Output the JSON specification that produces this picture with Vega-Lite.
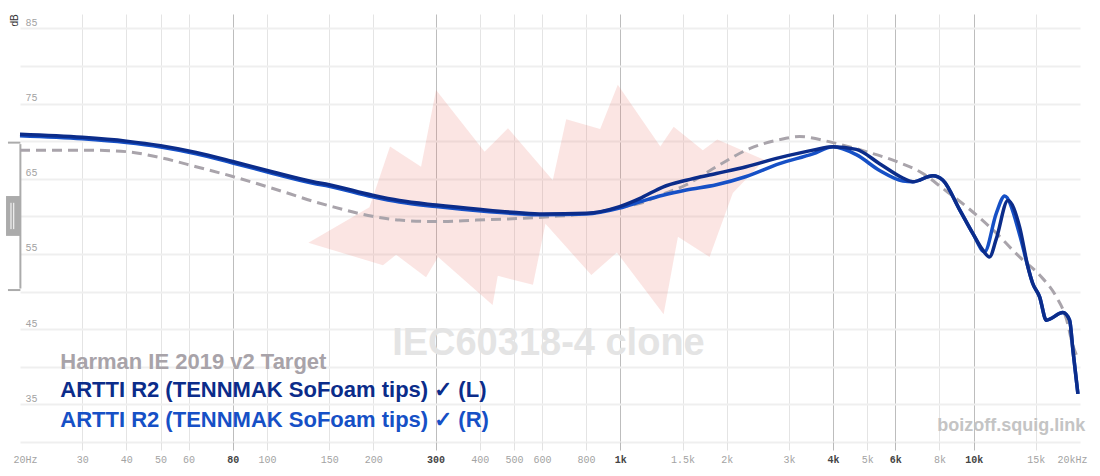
{
  "$schema": "https://vega.github.io/schema/vega-lite/v6.json",
  "width": 1060,
  "height": 428,
  "autosize": "none",
  "padding": {"left": 20, "top": 14, "right": 20, "bottom": 34},
  "background": "white",
  "config": {"view": {"stroke": null}},
  "datasets": {
    "iec": [
      {"i": 1, "f": 131, "db": 56.5}, {"i": 2, "f": 195, "db": 61.2}, {"i": 3, "f": 223, "db": 69.3},
      {"i": 4, "f": 273, "db": 66.6}, {"i": 5, "f": 301, "db": 76.8}, {"i": 6, "f": 413, "db": 68.6},
      {"i": 7, "f": 481, "db": 71.7}, {"i": 8, "f": 644, "db": 64.8}, {"i": 9, "f": 703, "db": 72.9},
      {"i": 10, "f": 877, "db": 71.6}, {"i": 11, "f": 984, "db": 77.5}, {"i": 12, "f": 1298, "db": 69.3},
      {"i": 13, "f": 1416, "db": 71.9}, {"i": 14, "f": 1712, "db": 68.8}, {"i": 15, "f": 1881, "db": 70.2},
      {"i": 16, "f": 2560, "db": 67.5}, {"i": 17, "f": 2082, "db": 63.1}, {"i": 18, "f": 1789, "db": 54.6},
      {"i": 19, "f": 1456, "db": 57.3}, {"i": 20, "f": 1326, "db": 47.0}, {"i": 21, "f": 978, "db": 55.2},
      {"i": 22, "f": 828, "db": 52.2}, {"i": 23, "f": 614, "db": 59.0}, {"i": 24, "f": 566, "db": 50.9},
      {"i": 25, "f": 450, "db": 52.1}, {"i": 26, "f": 435, "db": 48.2}, {"i": 27, "f": 305, "db": 54.6},
      {"i": 28, "f": 282, "db": 51.9}, {"i": 29, "f": 232, "db": 54.9}, {"i": 30, "f": 213, "db": 53.5},
      {"i": 31, "f": 131, "db": 56.5}
    ],
    "target": [
      {"f": 20, "db": 68.8}, {"f": 31, "db": 68.8}, {"f": 40, "db": 68.6}, {"f": 50, "db": 67.8},
      {"f": 63, "db": 66.6}, {"f": 80, "db": 65.3}, {"f": 104, "db": 63.7}, {"f": 116, "db": 63.0},
      {"f": 135, "db": 62.0}, {"f": 150, "db": 61.4}, {"f": 199, "db": 60.0}, {"f": 237, "db": 59.5},
      {"f": 301, "db": 59.3}, {"f": 391, "db": 59.5}, {"f": 508, "db": 59.7}, {"f": 630, "db": 59.95},
      {"f": 870, "db": 60.6}, {"f": 1000, "db": 61.2}, {"f": 1184, "db": 62.0}, {"f": 1264, "db": 62.6},
      {"f": 1537, "db": 64.2}, {"f": 1870, "db": 66.6}, {"f": 2322, "db": 69.0}, {"f": 2822, "db": 70.2},
      {"f": 3217, "db": 70.6}, {"f": 3996, "db": 69.8}, {"f": 4968, "db": 68.6}, {"f": 6040, "db": 67.3},
      {"f": 7184, "db": 65.7}, {"f": 8186, "db": 63.7}, {"f": 9532, "db": 61.3}, {"f": 11340, "db": 58.2},
      {"f": 13490, "db": 54.6}, {"f": 15370, "db": 52.2}, {"f": 17140, "db": 49.3}, {"f": 18290, "db": 46.4},
      {"f": 19100, "db": 42.8}, {"f": 19530, "db": 41.6}
    ],
    "left": [
      {"f": 20, "db": 70.9}, {"f": 30, "db": 70.5}, {"f": 40, "db": 70.0}, {"f": 50, "db": 69.4},
      {"f": 63, "db": 68.5}, {"f": 80, "db": 67.3}, {"f": 104, "db": 65.9}, {"f": 135, "db": 64.6},
      {"f": 150, "db": 64.2}, {"f": 199, "db": 62.8}, {"f": 237, "db": 62.1}, {"f": 301, "db": 61.5},
      {"f": 404, "db": 60.9}, {"f": 508, "db": 60.5}, {"f": 604, "db": 60.3}, {"f": 801, "db": 60.4},
      {"f": 995, "db": 61.3}, {"f": 1150, "db": 62.5}, {"f": 1319, "db": 63.9}, {"f": 1537, "db": 64.8},
      {"f": 1870, "db": 65.7}, {"f": 2272, "db": 66.6}, {"f": 2822, "db": 67.8}, {"f": 3508, "db": 68.8},
      {"f": 3996, "db": 69.25}, {"f": 4654, "db": 68.9}, {"f": 5418, "db": 67.0}, {"f": 6306, "db": 65.1},
      {"f": 6730, "db": 64.6}, {"f": 7668, "db": 65.4}, {"f": 8186, "db": 64.8}, {"f": 9124, "db": 60.9},
      {"f": 9954, "db": 57.7}, {"f": 10620, "db": 55.5}, {"f": 11090, "db": 54.6}, {"f": 11590, "db": 57.0},
      {"f": 12500, "db": 62.1}, {"f": 13490, "db": 58.6}, {"f": 14240, "db": 53.3}, {"f": 14690, "db": 51.1},
      {"f": 15370, "db": 49.3}, {"f": 16060, "db": 46.2}, {"f": 17890, "db": 47.2}, {"f": 18690, "db": 46.2},
      {"f": 19100, "db": 42.2}, {"f": 19730, "db": 36.4}
    ],
    "right": [
      {"f": 20, "db": 70.7}, {"f": 30, "db": 70.3}, {"f": 40, "db": 69.8}, {"f": 50, "db": 69.2},
      {"f": 63, "db": 68.3}, {"f": 80, "db": 67.1}, {"f": 104, "db": 65.7}, {"f": 135, "db": 64.4},
      {"f": 150, "db": 64.0}, {"f": 199, "db": 62.6}, {"f": 237, "db": 61.9}, {"f": 301, "db": 61.3},
      {"f": 404, "db": 60.7}, {"f": 508, "db": 60.35}, {"f": 604, "db": 60.2}, {"f": 801, "db": 60.3},
      {"f": 995, "db": 61.1}, {"f": 1150, "db": 62.0}, {"f": 1319, "db": 62.8}, {"f": 1537, "db": 63.5},
      {"f": 1870, "db": 64.2}, {"f": 2272, "db": 65.3}, {"f": 2822, "db": 67.0}, {"f": 3508, "db": 68.3},
      {"f": 3996, "db": 69.25}, {"f": 4654, "db": 68.2}, {"f": 5418, "db": 66.1}, {"f": 6306, "db": 64.7},
      {"f": 6730, "db": 64.6}, {"f": 7668, "db": 65.4}, {"f": 8186, "db": 64.8}, {"f": 9124, "db": 60.9},
      {"f": 9954, "db": 57.7}, {"f": 10740, "db": 55.3}, {"f": 11590, "db": 60.4}, {"f": 12240, "db": 62.7},
      {"f": 13490, "db": 57.6}, {"f": 14240, "db": 53.3}, {"f": 14690, "db": 51.1}, {"f": 15370, "db": 49.3},
      {"f": 16060, "db": 46.2}, {"f": 17890, "db": 47.2}, {"f": 18690, "db": 46.2}, {"f": 19100, "db": 42.2},
      {"f": 19730, "db": 36.4}
    ],
    "notes": [
      {"t": "IEC60318-4 clone"}
    ]
  },
  "layer": [
    {
      "data": {"name": "notes"},
      "layer": [
        {
          "mark": {"type": "rule", "color": "#ababab", "strokeWidth": 2},
          "encoding": {"x": {"datum": 20.05, "type": "quantitative"}, "y": {"datum": 69.6, "type": "quantitative"}, "y2": {"datum": 50.4}}
        },
        {
          "mark": {"type": "rule", "color": "#ababab", "strokeWidth": 2},
          "encoding": {"x": {"datum": 18.49, "type": "quantitative"}, "x2": {"datum": 20.05}, "y": {"datum": 69.8, "type": "quantitative"}}
        },
        {
          "mark": {"type": "rule", "color": "#ababab", "strokeWidth": 2},
          "encoding": {"x": {"datum": 18.49, "type": "quantitative"}, "x2": {"datum": 20.05}, "y": {"datum": 50.2, "type": "quantitative"}}
        },
        {
          "mark": {"type": "rect", "color": "#ababab"},
          "encoding": {"x": {"datum": 18.26, "type": "quantitative"}, "x2": {"datum": 20.05}, "y": {"datum": 62.7, "type": "quantitative"}, "y2": {"datum": 57.4}}
        },
        {
          "mark": {"type": "rule", "color": "white", "strokeWidth": 1},
          "encoding": {"x": {"datum": 18.86, "type": "quantitative"}, "y": {"datum": 61.8, "type": "quantitative"}, "y2": {"datum": 58.3}}
        },
        {
          "mark": {"type": "rule", "color": "white", "strokeWidth": 1},
          "encoding": {"x": {"datum": 19.2, "type": "quantitative"}, "y": {"datum": 61.8, "type": "quantitative"}, "y2": {"datum": 58.3}}
        },
        {
          "mark": {"type": "text", "font": "Liberation Sans", "fontWeight": "bold", "fontSize": 38, "color": "#e4e4e4", "align": "center", "baseline": "alphabetic", "text": "IEC60318-4 clone"},
          "encoding": {"x": {"datum": 626, "type": "quantitative"}, "y": {"datum": 41.6, "type": "quantitative"}}
        },
        {
          "mark": {"type": "text", "font": "Liberation Sans", "fontWeight": "bold", "fontSize": 18, "color": "#c4c4c4", "align": "right", "baseline": "alphabetic", "text": "boizoff.squig.link"},
          "encoding": {"x": {"datum": 20700, "type": "quantitative"}, "y": {"datum": 31.45, "type": "quantitative"}}
        }
      ]
    },
    {
      "data": {"name": "iec"},
      "mark": {"type": "line", "fill": "#eb6e64", "fillOpacity": 0.18, "strokeWidth": 0, "stroke": null, "interpolate": "linear"},
      "encoding": {
        "x": {
          "field": "f", "type": "quantitative",
          "scale": {"type": "log", "domain": [20, 20000], "nice": false},
          "axis": {
            "title": null, "domain": false,
            "values": [20, 30, 40, 50, 60, 80, 100, 150, 200, 300, 400, 500, 600, 800, 1000, 1500, 2000, 3000, 4000, 5000, 6000, 8000, 10000, 15000, 20000],
            "labelExpr": "datum.value == 20 ? '20Hz' : datum.value == 20000 ? '20kHz' : datum.value >= 1000 ? (datum.value / 1000) + 'k' : datum.value + ''",
            "labelFont": "Liberation Mono", "labelFontSize": 10,
            "labelColor": {"condition": {"test": "indexof([80, 300, 1000, 4000, 6000, 10000], datum.value) >= 0", "value": "#444444"}, "value": "#a3a3a3"},
            "labelFontWeight": {"condition": {"test": "indexof([80, 300, 1000, 4000, 6000, 10000], datum.value) >= 0", "value": "bold"}, "value": "normal"},
            "labelFlush": true, "labelFlushOffset": 7,
            "labelPadding": 4, "labelOverlap": false,
            "tickSize": 8,
            "tickColor": {"condition": [{"test": "datum.value == 20 || datum.value == 20000", "value": "rgba(0,0,0,0)"}, {"test": "indexof([80, 300, 1000, 4000, 6000, 10000], datum.value) >= 0", "value": "#b9b9b9"}], "value": "#e2e2e2"},
            "grid": true,
            "gridColor": {"condition": [{"test": "datum.value == 20 || datum.value == 20000", "value": "rgba(0,0,0,0)"}, {"test": "indexof([80, 300, 1000, 4000, 6000, 10000], datum.value) >= 0", "value": "#bdbdbd"}], "value": "#e4e4e4"},
            "gridWidth": 1
          }
        },
        "y": {
          "field": "db", "type": "quantitative",
          "scale": {"domain": [30, 86.9], "nice": false, "zero": false},
          "axis": {
            "title": "dB", "titleFont": "Liberation Sans", "titleFontSize": 10, "titleFontWeight": "normal",
            "titleColor": "#333333", "titleAngle": 270, "titleX": -6, "titleY": 6,
            "titleAlign": "center", "titleBaseline": "middle",
            "domain": false, "ticks": false, "tickSize": 0, "tickCount": 12,
            "values": [30, 35, 40, 45, 50, 55, 60, 65, 70, 75, 80, 85],
            "labelExpr": "datum.value % 10 == 5 ? datum.label : ''",
            "labelFont": "Liberation Mono", "labelFontSize": 10, "labelColor": "#a3a3a3",
            "labelAlign": "left", "labelBaseline": "alphabetic", "labelPadding": -5, "labelOffset": -3,
            "grid": true, "gridColor": "#efefef", "gridWidth": 2
          }
        },
        "order": {"field": "i", "type": "quantitative"}
      }
    },
    {
      "data": {"name": "target"},
      "mark": {"type": "line", "color": "#a9a4ab", "strokeWidth": 3, "strokeDash": [10, 6], "interpolate": "monotone"},
      "encoding": {"x": {"field": "f", "type": "quantitative"}, "y": {"field": "db", "type": "quantitative"}}
    },
    {
      "data": {"name": "right"},
      "mark": {"type": "line", "color": "#1650c6", "strokeWidth": 3.5, "interpolate": "monotone"},
      "encoding": {"x": {"field": "f", "type": "quantitative"}, "y": {"field": "db", "type": "quantitative"}}
    },
    {
      "data": {"name": "left"},
      "mark": {"type": "line", "color": "#0b2c8a", "strokeWidth": 3.5, "interpolate": "monotone"},
      "encoding": {"x": {"field": "f", "type": "quantitative"}, "y": {"field": "db", "type": "quantitative"}}
    },
    {
      "data": {"name": "notes"},
      "layer": [
        {
          "mark": {"type": "text", "font": "Liberation Sans", "fontWeight": "bold", "fontSize": 22, "color": "#a8a3a9", "align": "left", "baseline": "alphabetic", "text": "Harman IE 2019 v2 Target"},
          "encoding": {"x": {"datum": 26, "type": "quantitative"}, "y": {"datum": 39.7, "type": "quantitative"}}
        },
        {
          "mark": {"type": "text", "font": "Liberation Sans", "fontWeight": "bold", "fontSize": 22, "color": "#0b2c8a", "align": "left", "baseline": "alphabetic", "text": "ARTTI R2 (TENNMAK SoFoam tips) ✓ (L)"},
          "encoding": {"x": {"datum": 26, "type": "quantitative"}, "y": {"datum": 35.97, "type": "quantitative"}}
        },
        {
          "mark": {"type": "text", "font": "Liberation Sans", "fontWeight": "bold", "fontSize": 22, "color": "#1650c6", "align": "left", "baseline": "alphabetic", "text": "ARTTI R2 (TENNMAK SoFoam tips) ✓ (R)"},
          "encoding": {"x": {"datum": 26, "type": "quantitative"}, "y": {"datum": 32.0, "type": "quantitative"}}
        }
      ]
    }
  ]
}
